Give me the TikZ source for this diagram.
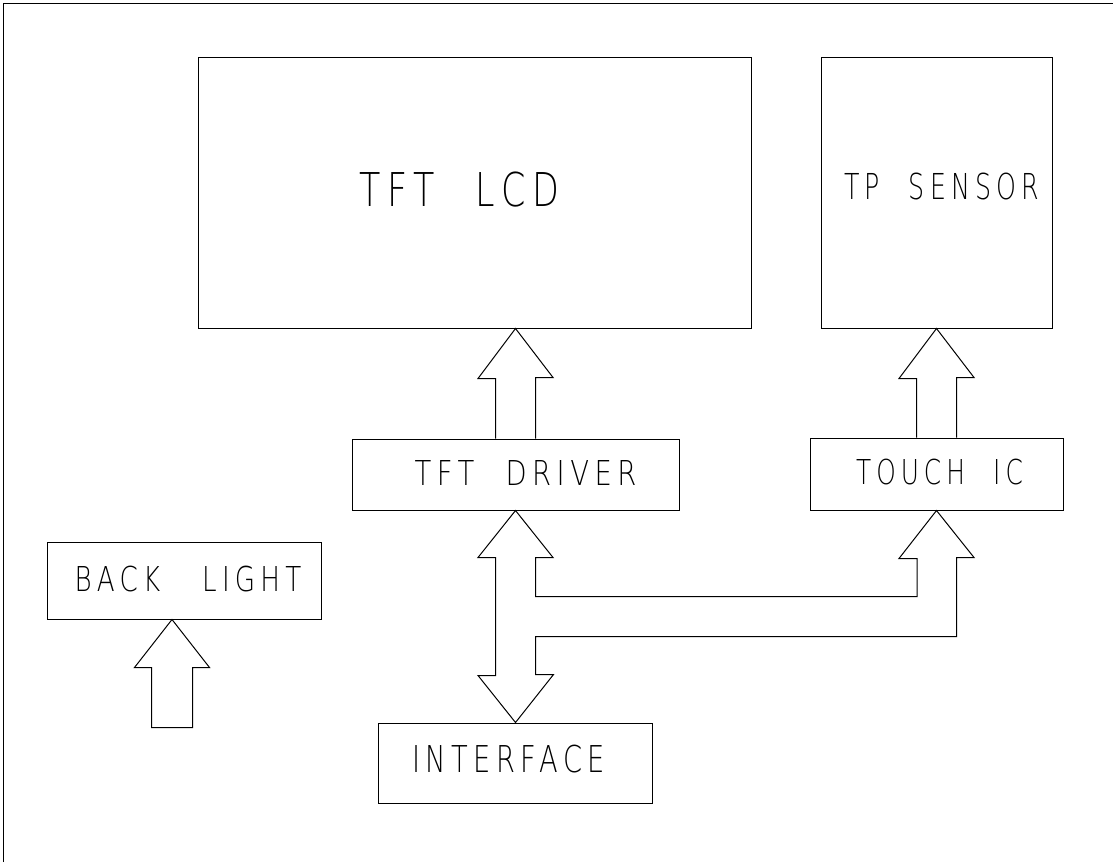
\documentclass[tikz,border=0pt]{standalone}
\usepackage{graphicx}
\usepackage{fontspec}
% thin drafting-style lettering, mono as a fallback
\newif\ifcadlight
\IfFontExistsTF{DejaVu Sans ExtraLight}
  {\newfontfamily\cadfont{DejaVu Sans ExtraLight}[LetterSpace=20, WordSpace=2.2]\cadlighttrue}
  {\newfontfamily\cadfont{DejaVu Sans Mono}[LetterSpace=4]}
\newcommand\cadtext[2][0.8]{\ifcadlight\scalebox{#1}[1]{#2}\else#2\fi}
\usetikzlibrary{calc,positioning}
\begin{document}
\begin{tikzpicture}[x=1pt,y=-1pt,
    unit/.style={draw, line width=1pt, inner sep=0pt},
    tag/.style={inner sep=0pt, font=\cadfont\fontsize{34.3}{34.3}\selectfont},
    wire/.style={line width=1pt, line join=miter}]
  \useasboundingbox (0,0) rectangle (1113,862);

  % sheet frame
  \draw[line width=1pt] (3,862) -- (3,3) -- (1113,3);

  % blocks
  \node[unit, minimum width=553pt, minimum height=271pt,
    label={[tag, font=\cadfont\fontsize{46.6}{46.6}\selectfont, xshift=-15pt, yshift=2.5pt]center:\cadtext[0.749]{TFT LCD}}]
    (lcd) at (474.5,192.5) {};
  \node[unit, minimum width=231pt, minimum height=271pt,
    label={[tag, font=\cadfont\fontsize{35.7}{35.7}\selectfont, xshift=5pt, yshift=5.5pt]center:\cadtext[0.708]{TP SENSOR}}]
    (tps) at (936.5,192.5) {};
  \node[unit, minimum width=327pt, minimum height=71pt,
    label={[tag, xshift=10pt, yshift=2pt]center:\cadtext[0.8]{TFT DRIVER}}] (drv) at (515.5,474.5) {};
  \node[unit, minimum width=253pt, minimum height=72pt,
    label={[tag, xshift=3pt, yshift=1.5pt]center:\cadtext[0.724]{TOUCH IC}}] (tic) at (936.5,474) {};
  \node[unit, minimum width=274pt, minimum height=77pt,
    label={[tag, xshift=4pt, yshift=1pt]center:\cadtext[0.763]{BACK\hspace{1.6em}LIGHT}}] (bl) at (184,580.5) {};
  \node[unit, minimum width=274pt, minimum height=80pt,
    label={[tag, font=\cadfont\fontsize{37}{37}\selectfont, xshift=-7pt, yshift=3.5pt]center:\cadtext[0.738]{INTERFACE}}]
    (intf) at (515.5,763) {};

  \coordinate (lcdtip) at (lcd.south -| drv.north);
  \coordinate (bustop) at (drv.south);
  \coordinate (tictip) at (tic.south);
  \coordinate (busbot) at (intf.north);
  \coordinate (bltip) at ([xshift=-12pt]bl.south);

  % driver -> lcd
  \draw[wire] ([xshift=20pt]drv.north) -- ++(0,-61) -- ++(17.5,0) -- (lcdtip)
    -- ++(-37.5,50) -- ++(17.5,0) -- ([xshift=-20pt]drv.north);
  % touch ic -> sensor
  \draw[wire] ([xshift=20pt]tic.north) -- ++(0,-60) -- ++(17.5,0) -- (tps.south)
    -- ++(-37.5,50) -- ++(17.5,0) -- ([xshift=-20pt]tic.north);

  % interface bus
  \draw[wire] (bustop) -- ++(37.5,47) -- ++(-17.5,0)
    |- ($(tictip)+(-19.5,86)$) -- ++(0,-38) -- ++(-18,0) -- (tictip)
    -- ++(37.5,47) -- ++(-17.5,0)
    |- ($(busbot)+(20,-86)$) -- ++(0,38) -- ++(18,0) -- (busbot)
    -- ++(-37.5,-47) -- ++(17.5,0) -- ($(bustop)+(-20,47)$) -- ++(-17.5,0) -- cycle;

  % back light feed
  \draw[wire] (bltip) -- ++(37.5,48) -- ++(-17,0) -- ++(0,60) -- ++(-41,0)
    -- ++(0,-60) -- ++(-17,0) -- cycle;
\end{tikzpicture}
\end{document}
